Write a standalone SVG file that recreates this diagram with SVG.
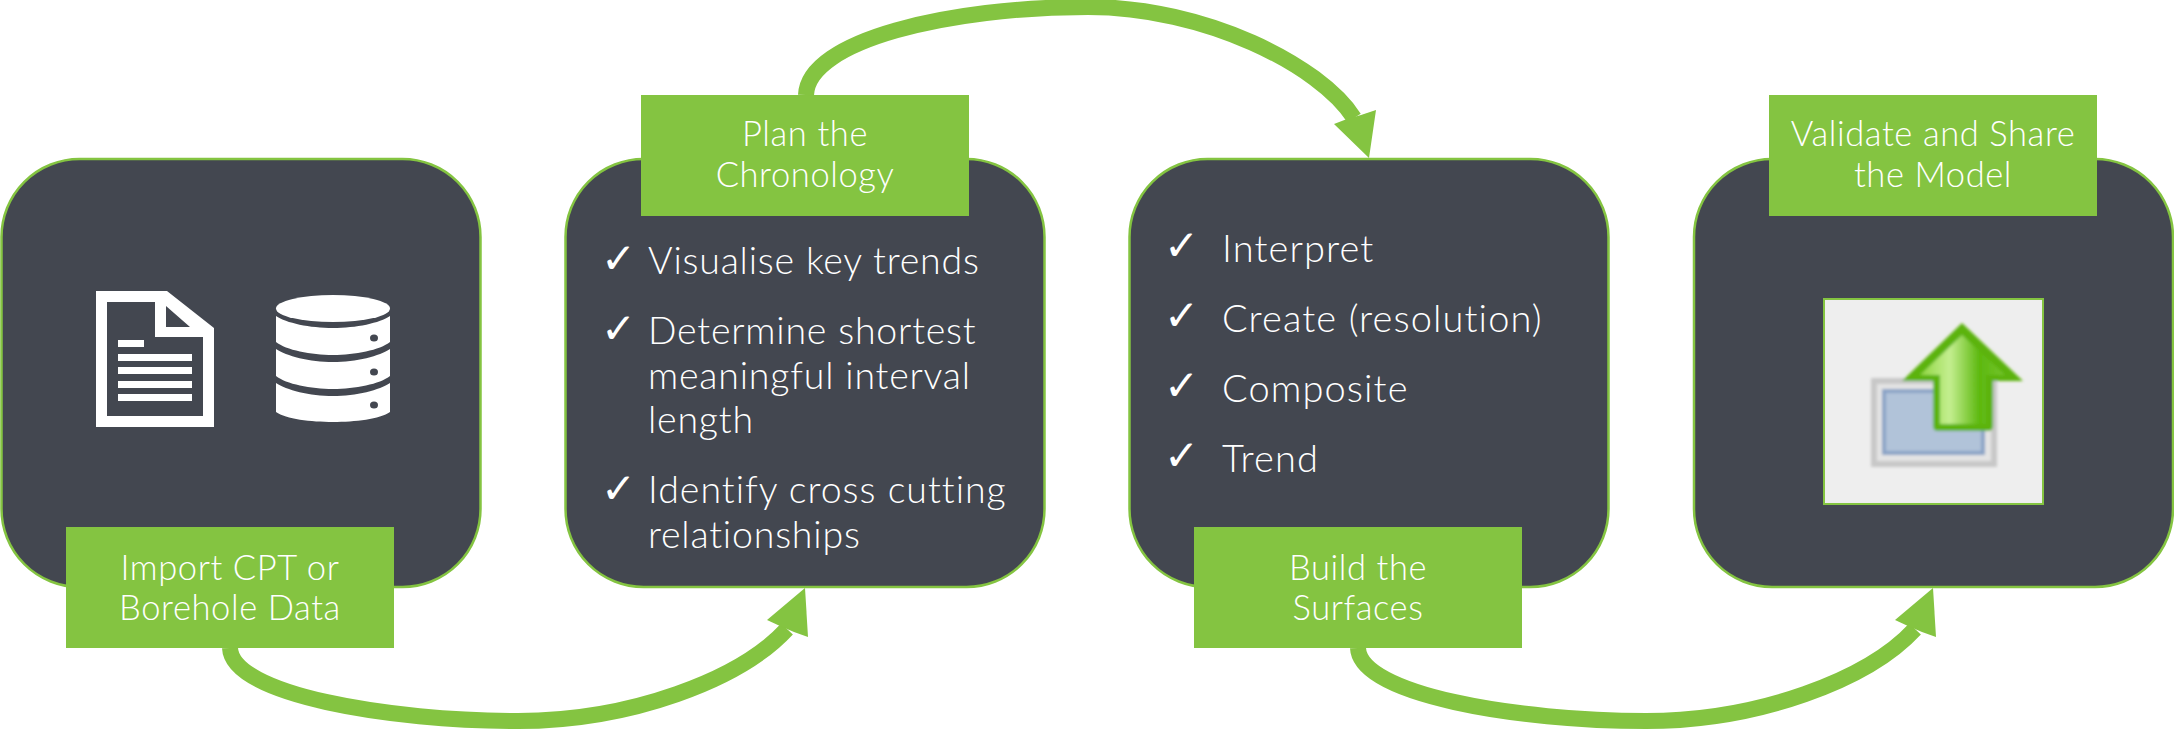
<svg xmlns="http://www.w3.org/2000/svg" width="2174" height="730" viewBox="0 0 2174 730">
  <style>
    .card { fill: #434750; stroke: #84c441; stroke-width: 2.5; }
    .tag { fill: #84c441; }
    .flow { fill: none; stroke: #84c441; stroke-width: 16; }
    .head { fill: #84c441; }
    text { font-family: "Lato", "Liberation Sans", sans-serif; font-weight: 300; fill: #ffffff; }
    .tagtext { font-size: 34.5px; letter-spacing: 0.6px; text-anchor: middle; }
    .item { font-size: 37.5px; letter-spacing: 0.8px; }
    .item.wide { font-size: 38px; letter-spacing: 1.1px; }
    .tick { font-family: "DejaVu Sans", sans-serif; font-weight: 400; font-size: 42px; letter-spacing: 0; }
    .ico { fill: #ffffff; }
    .cut { fill: #434750; }
  </style>
  <defs>
    <linearGradient id="arrowFill" x1="0" y1="0" x2="1" y2="0">
      <stop offset="0" stop-color="#8fd640"/>
      <stop offset="0.35" stop-color="#c4ee90"/>
      <stop offset="0.7" stop-color="#5cb80e"/>
      <stop offset="1" stop-color="#74c42c"/>
    </linearGradient>
    <filter id="soft" x="-10%" y="-10%" width="120%" height="120%">
      <feGaussianBlur stdDeviation="1.8"/>
    </filter>
  </defs>

  <g id="node-import">
    <rect class="card" x="1.5" y="159" width="479" height="428" rx="78"/>
    <g id="document-icon">
      <path class="ico" fill-rule="evenodd" d="M96 291H167L214 328V427H96ZM107 302V416H203V337H155V302ZM166 306V327H190Z"/>
      <path class="ico" d="M118 340h26v7h-26zM118 354h74v7h-74zM118 367h74v7h-74zM118 381h74v7h-74zM118 394h74v7h-74z"/>
    </g>
    <g id="database-icon">
      <ellipse class="ico" cx="333" cy="308.5" rx="57" ry="13.5"/>
      <path class="ico" d="M276 316C286 323 310 328 333 328S380 323 390 316V342C380 350 355 355 333 355S286 350 276 342Z"/>
      <path class="ico" d="M276 349C286 356 310 362 333 362S380 356 390 349V376C380 384 355 389 333 389S286 384 276 376Z"/>
      <path class="ico" d="M276 383C286 390 310 396 333 396S380 390 390 383V412C380 419 355 422 333 422S286 419 276 412Z"/>
      <ellipse class="cut" cx="374" cy="338" rx="4" ry="3.5"/>
      <ellipse class="cut" cx="374" cy="372" rx="4" ry="3.5"/>
      <ellipse class="cut" cx="374" cy="405" rx="4" ry="3.5"/>
    </g>
    <rect class="tag" x="66" y="527" width="328" height="121"/>
    <text class="tagtext" x="230" y="580">Import CPT or</text>
    <text class="tagtext" x="230" y="620">Borehole Data</text>
  </g>

  <g id="node-chronology">
    <rect class="card" x="565.5" y="159" width="479" height="428" rx="78"/>
    <rect class="tag" x="641" y="95" width="328" height="121"/>
    <text class="tagtext" x="805" y="146">Plan the</text>
    <text class="tagtext" x="805" y="187">Chronology</text>
    <text class="tick" x="601" y="273">✓</text>
    <text class="item" x="648" y="274">Visualise key trends</text>
    <text class="tick" x="601" y="343">✓</text>
    <text class="item" x="648" y="344">Determine shortest</text>
    <text class="item" x="648" y="389">meaningful interval</text>
    <text class="item" x="648" y="433">length</text>
    <text class="tick" x="601" y="503">✓</text>
    <text class="item" x="648" y="503" style="letter-spacing:1px">Identify cross cutting</text>
    <text class="item" x="648" y="548">relationships</text>
  </g>

  <g id="node-surfaces">
    <rect class="card" x="1129.5" y="159" width="479" height="428" rx="78"/>
    <text class="tick" x="1164" y="260">✓</text>
    <text class="item wide" x="1222" y="262">Interpret</text>
    <text class="tick" x="1164" y="330">✓</text>
    <text class="item wide" x="1222" y="332">Create (resolution)</text>
    <text class="tick" x="1164" y="400">✓</text>
    <text class="item wide" x="1222" y="402">Composite</text>
    <text class="tick" x="1164" y="470">✓</text>
    <text class="item wide" x="1222" y="472">Trend</text>
    <rect class="tag" x="1194" y="527" width="328" height="121"/>
    <text class="tagtext" x="1358" y="580">Build the</text>
    <text class="tagtext" x="1358" y="620">Surfaces</text>
  </g>

  <g id="node-validate">
    <rect class="card" x="1694" y="159" width="479" height="428" rx="78"/>
    <rect class="tag" x="1769" y="95" width="328" height="121"/>
    <text class="tagtext" x="1933" y="146">Validate and Share</text>
    <text class="tagtext" x="1933" y="187">the Model</text>
    <g id="export-icon">
      <rect x="1824" y="299" width="219" height="205" fill="#eeeeee" stroke="#84c441" stroke-width="2"/>
      <g filter="url(#soft)">
        <rect x="1874" y="381" width="120" height="83" fill="#e4e4e4" stroke="#c8c8c8" stroke-width="6"/>
        <rect x="1884" y="391" width="99" height="62" fill="#b1c3d9" stroke="#8aa3c6" stroke-width="4"/>
        <path d="M1962 323L2023 381H1993V426Q1993 431 1988 431H1938Q1933 431 1933 426V381H1902Z" fill="#5cb30c"/>
        <path d="M1962 335L2005 375H1986V424H1940V375H1920Z" fill="url(#arrowFill)"/>
      </g>
    </g>
  </g>

  <g id="connectors">
    <path class="flow" d="M230 648C232 695 390 721 518 721C630 721 740 680 787 629"/>
    <path class="head" d="M805 588L808 637L794 632L780 626L767 620Z"/>
    <path class="flow" d="M806 95C808 40 950 7 1088 7C1205 7 1320 65 1354 118"/>
    <path class="head" d="M1369 158L1376 110L1361 115L1347 119L1334 124Z"/>
    <path class="flow" d="M1358 648C1360 695 1518 721 1646 721C1758 721 1868 680 1915 629"/>
    <path class="head" d="M1933 588L1936 637L1922 632L1908 626L1895 620Z"/>
  </g>
</svg>
